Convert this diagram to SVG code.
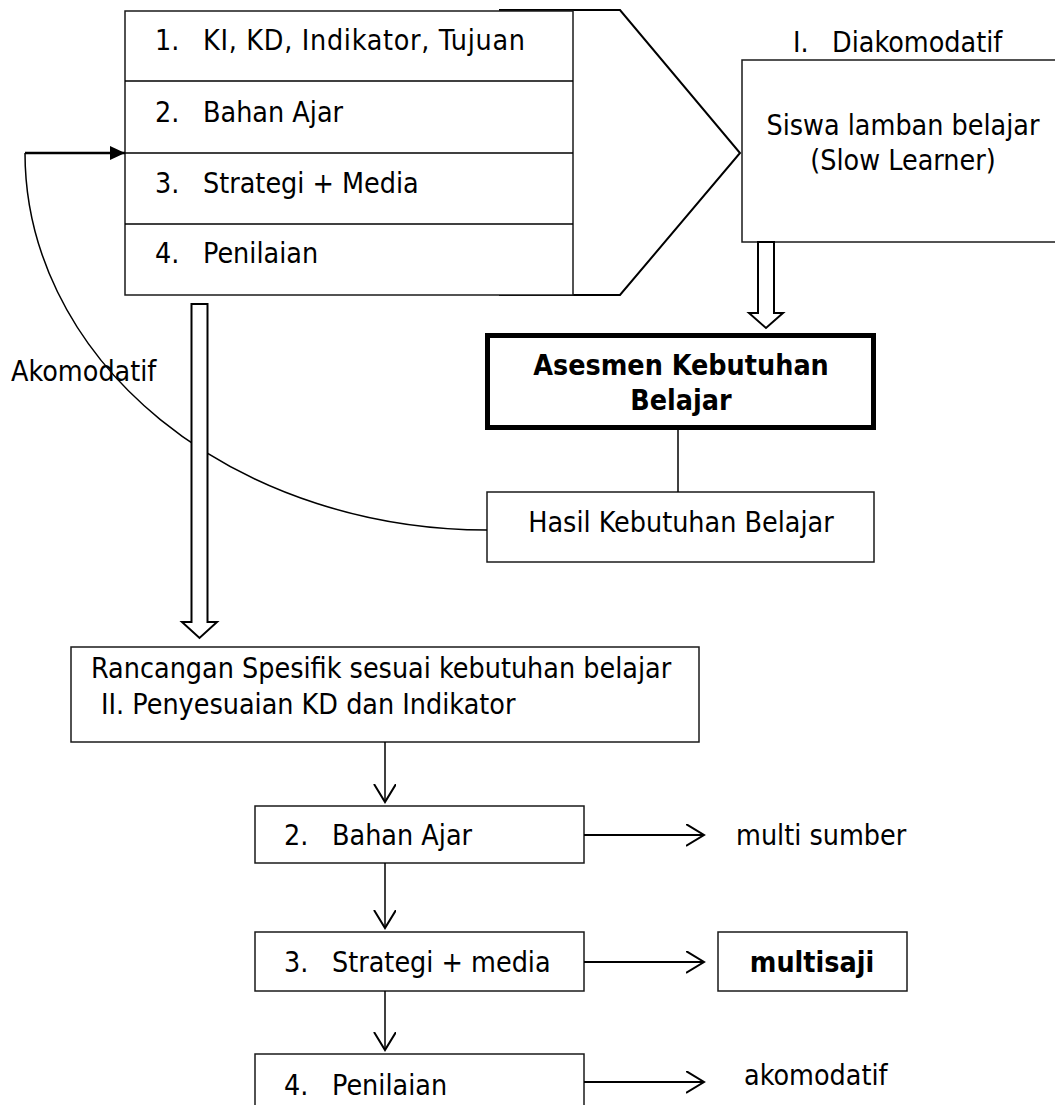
<svg xmlns="http://www.w3.org/2000/svg" width="1055" height="1105" viewBox="0 0 1055 1105">
<style>
text{font-family:"DejaVu Sans Condensed","DejaVu Sans",sans-serif;font-size:28.4px;fill:#000}
.b{font-weight:bold}
.m{text-anchor:middle}
.box{fill:#fff;stroke:#1a1a1a;stroke-width:1.5}
.ln{fill:none;stroke:#000;stroke-width:1.5}
.blk{fill:#fff;stroke:#000;stroke-width:2}
</style>
<defs>
<marker id="v" markerWidth="20" markerHeight="24" refX="18" refY="11" orient="auto" markerUnits="userSpaceOnUse">
<path d="M0,0 L18,11 L0,22" fill="none" stroke="#000" stroke-width="2"/>
</marker>
<marker id="tri" markerWidth="16" markerHeight="16" refX="15" refY="7" orient="auto" markerUnits="userSpaceOnUse">
<path d="M0,0 L15,7 L0,14 Z" fill="#000"/>
</marker>
</defs>
<rect width="1055" height="1105" fill="#fff"/>

<g id="pentagon">
<path d="M499,10 L620,10 L740,153 L620,295 L499,295" fill="#fff" stroke="#000" stroke-width="2"/>
</g>

<g id="table">
<rect class="box" x="125" y="11" width="448" height="284"/>
<line class="ln" x1="125" y1="81" x2="573" y2="81"/>
<line class="ln" x1="125" y1="153" x2="573" y2="153"/>
<line class="ln" x1="125" y1="224" x2="573" y2="224"/>
<text x="155" y="50">1.</text><text x="203" y="50" textLength="322">KI, KD, Indikator, Tujuan</text>
<text x="155" y="122">2.</text><text x="203" y="122">Bahan Ajar</text>
<text x="155" y="193">3.</text><text x="203" y="193">Strategi + Media</text>
<text x="155" y="263">4.</text><text x="203" y="263">Penilaian</text>
</g>

<g id="diakomodatif">
<text x="793" y="52">I.</text><text x="832" y="52">Diakomodatif</text>
</g>

<g id="siswa">
<rect class="box" x="742" y="60" width="330" height="182"/>
<text class="m" x="903" y="135">Siswa lamban belajar</text>
<text class="m" x="903" y="170">(Slow Learner)</text>
</g>

<g id="asesmen">
<rect x="487.5" y="335.5" width="386" height="92" fill="#fff" stroke="#000" stroke-width="5"/>
<text class="m b" x="681" y="375">Asesmen Kebutuhan</text>
<text class="m b" x="681" y="410">Belajar</text>
</g>

<g id="hasil">
<rect class="box" x="487" y="492" width="387" height="70"/>
<text class="m" x="681" y="532">Hasil Kebutuhan Belajar</text>
</g>

<g id="akomodatif-label">
<text x="11" y="381">Akomodatif</text>
</g>

<g id="rancangan">
<rect class="box" x="71" y="647" width="628" height="95"/>
<text x="91" y="678">Rancangan Spesifik sesuai kebutuhan belajar</text>
<text x="101" y="714">II. Penyesuaian KD dan Indikator</text>
</g>

<g id="bahan">
<rect class="box" x="255" y="806" width="329" height="57"/>
<text x="284" y="845">2.</text><text x="332" y="845">Bahan Ajar</text>
</g>

<g id="strategi">
<rect class="box" x="255" y="932" width="329" height="59"/>
<text x="284" y="972">3.</text><text x="332" y="972">Strategi + media</text>
</g>

<g id="penilaian">
<rect class="box" x="255" y="1054" width="329" height="70"/>
<text x="284" y="1095">4.</text><text x="332" y="1095">Penilaian</text>
</g>

<g id="multisumber">
<text x="736" y="845">multi sumber</text>
</g>

<g id="multisaji">
<rect class="box" x="718" y="932" width="189" height="59"/>
<text class="m b" x="812" y="972">multisaji</text>
</g>

<g id="akomodatif-out">
<text x="744" y="1085">akomodatif</text>
</g>

<g id="connectors">
<path d="M487,530 A462,377 0 0 1 25,153" fill="none" stroke="#000" stroke-width="1.5"/>
<line x1="25" y1="153" x2="125" y2="153" stroke="#000" stroke-width="2.5" marker-end="url(#tri)"/>
<path class="blk" d="M191.5,304 L207.5,304 L207.5,622 L217,622 L199.5,638 L182,622 L191.5,622 Z"/>
<path class="blk" d="M758,242 L774,242 L774,313 L783,313 L766,328 L749,313 L758,313 Z"/>
<line class="ln" x1="678" y1="430" x2="678" y2="492"/>
<line class="ln" x1="385" y1="742" x2="385" y2="802" marker-end="url(#v)"/>
<line class="ln" x1="385" y1="863" x2="385" y2="928" marker-end="url(#v)"/>
<line class="ln" x1="385" y1="991" x2="385" y2="1050" marker-end="url(#v)"/>
<line x1="584" y1="835" x2="704" y2="835" stroke="#000" stroke-width="2" marker-end="url(#v)"/>
<line x1="584" y1="962" x2="704" y2="962" stroke="#000" stroke-width="2" marker-end="url(#v)"/>
<line x1="584" y1="1082" x2="704" y2="1082" stroke="#000" stroke-width="2" marker-end="url(#v)"/>
</g>
</svg>
